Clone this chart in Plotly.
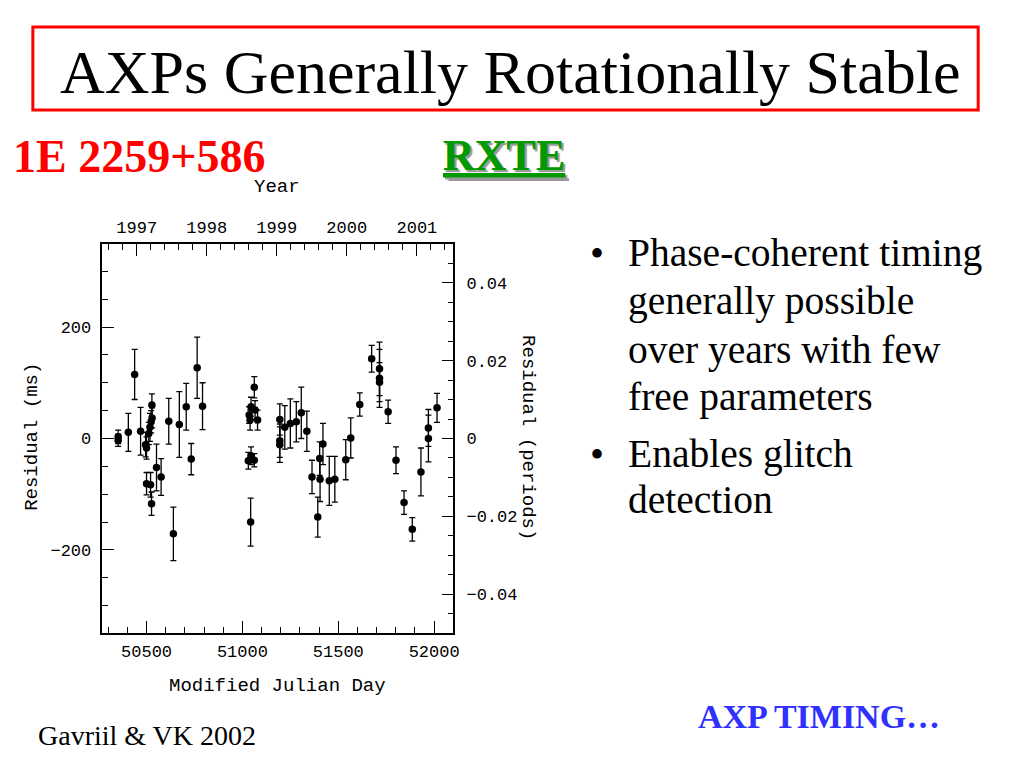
import datetime as dt
import plotly.graph_objects as go

# ---------------- data ----------------
mjd = [50352, 50352, 50405, 50438, 50469, 50495, 50500, 50512, 50518, 50524,
       50529, 50528, 50500, 50521, 50526, 50552, 50576, 50616, 50640, 50671,
       50707, 50733, 50764, 50792,
       51062, 51045, 51066, 51035, 51079, 51040, 51045, 51031, 51062, 51043,
       51195, 51195, 51195, 51221, 51250, 51281, 51307, 51336, 51363, 51393,
       51403, 51405, 51420, 51453, 51482, 51539, 51565, 51612, 51674, 51715,
       51715, 51715, 51760, 51801, 51843, 51886, 51931, 51970, 51970, 52015]
resid_ms = [3, -3, 11, 115, 13, -11, -17, 9, 20, 30,
            37, 60, -81, -83, -117, -52, -69, 31, -171, 25,
            57, -37, 127, 58,
            92, 57, 51, 42, 33, 33, -31, -40, -39, -150,
            34, -4, -11, 20, 27, 30, 46, 13, -69, -141,
            -36, -73, -10, -76, -73, -38, 1, 61, 143, 125,
            108, 101, 48, -39, -115, -163, -60, 19, 0, 55]
err_ms = [12, 11, 34, 45, 43, 22, 20, 20, 25, 20,
          18, 20, 20, 22, 21, 42, 33, 41, 48, 59,
          42, 28, 55, 42,
          19, 17, 17, 15, 18, 18, 16, 15, 12, 43,
          28, 30, 32, 39, 44, 36, 46, 36, 30, 36,
          30, 40, 37, 44, 41, 36, 36, 21, 24, 48,
          52, 35, 21, 24, 21, 21, 43, 33, 42, 26]

period_ms = 6979.0          # spin period of 1E 2259+586 (ms)
years = [1997, 1998, 1999, 2000, 2001]
bottom_ticks = [50500, 51000, 51500, 52000]
bottom_ticktext = ["50500", "51000", "51500", "52000"]
left_ticks = [-200, 0, 200]
left_ticktext = ["\u2212200", "0", "200"]
right_ticks = [-0.04, -0.02, 0.0, 0.02, 0.04]
right_ticktext = ["\u22120.04", "\u22120.02", "0", "0.02", "0.04"]
x_range = [50270, 52100]
period_range = [-0.05, 0.05]

bullet1 = ["Phase-coherent timing", "generally possible",
           "over years with few", "free parameters"]
bullet2 = ["Enables glitch", "detection"]

# ---------------- helpers ----------------
MJD0 = dt.date(1858, 11, 17)


def year_to_mjd(y):
    yi = int(y)
    start = (dt.date(yi, 1, 1) - MJD0).days
    length = (dt.date(yi + 1, 1, 1) - dt.date(yi, 1, 1)).days
    return start + (y - yi) * length


year_mjd = [year_to_mjd(y) for y in years]
year_minor = [year_to_mjd(1996 + k * 0.2) for k in range(0, 6 * 5 + 1)]

W, H, OFF = 1008, 752, 8


def fx(px):
    return (px - OFF) / W


def fy(py):
    return 1 - (py - OFF) / H


MONO = "Liberation Mono"
SERIF = "Liberation Serif"
BLACK = "black"

fig = go.Figure()
fig.add_trace(go.Scatter(
    x=mjd, y=resid_ms, mode="markers",
    marker=dict(color=BLACK, size=7.5),
    error_y=dict(type="data", array=err_ms, color=BLACK, thickness=1.3, width=3),
    showlegend=False, hoverinfo="skip"))
fig.add_trace(go.Scatter(
    x=mjd, y=[r / period_ms for r in resid_ms], xaxis="x2", yaxis="y2",
    mode="markers", marker=dict(opacity=0), showlegend=False, hoverinfo="skip"))

tickfont = dict(family=MONO, size=17, color=BLACK)
common = dict(showgrid=False, zeroline=False, showline=True, linecolor=BLACK,
              linewidth=1.5, ticks="inside", ticklen=12, tickwidth=1.2,
              tickcolor=BLACK, tickfont=tickfont)


def minor(vals):
    return dict(tickmode="array", tickvals=vals, ticks="inside", ticklen=6,
                tickwidth=1.2, tickcolor=BLACK, showgrid=False)


fig.update_layout(
    width=W, height=H, margin=dict(l=0, r=0, t=0, b=0),
    paper_bgcolor="white", plot_bgcolor="white",
    xaxis=dict(domain=[fx(103), fx(456)], range=x_range, tickmode="array",
               tickvals=bottom_ticks, ticktext=bottom_ticktext,
               minor=minor(list(range(50300, 52100, 100))),
               ticklabelstandoff=2, **common),
    xaxis2=dict(overlaying="x", side="top", anchor="y", range=x_range,
                tickmode="array", tickvals=year_mjd, ticktext=[str(y) for y in years],
                minor=minor(year_minor), ticklabelstandoff=2, **common),
    yaxis=dict(domain=[fy(633), fy(244)],
               range=[period_range[0] * period_ms, period_range[1] * period_ms],
               tickmode="array", tickvals=left_ticks, ticktext=left_ticktext,
               minor=minor(list(range(-300, 301, 50))), ticklabelstandoff=6, **common),
    yaxis2=dict(overlaying="y", side="right", anchor="x", range=period_range,
                tickmode="array", tickvals=right_ticks, ticktext=right_ticktext,
                minor=minor([k * 0.005 for k in range(-9, 10)]),
                ticklabelstandoff=8, **common),
)

ann = []


def add(text, x, y, size, family=SERIF, color=BLACK, xanchor="center",
        angle=0, yanchor="middle", **fontextra):
    ann.append(dict(text=text, x=fx(x), y=fy(y), xref="paper", yref="paper",
                    showarrow=False, xanchor=xanchor, yanchor=yanchor,
                    textangle=angle,
                    font=dict(family=family, size=size, color=color, **fontextra)))


add("AXPs Generally Rotationally Stable", 514, 72, 62)
add("<b>1E 2259+586</b>", 11, 157, 46, color="#ff0000", xanchor="left")
add("<b>RXTE</b>", 507, 156, 44, color="#009a00", lineposition="under",
    shadow="2px 2px 1px #9a9a9a")
add("Year", 279, 187, 19, family=MONO)
add("Modified Julian Day", 279, 686, 19, family=MONO)
add("Residual (ms)", 32, 437, 19, family=MONO, angle=-90)
add("Residual (periods)", 531, 438, 19, family=MONO, angle=90)

line_y = [253, 301, 350, 397]
for txt, yy in zip(bullet1, line_y):
    add(txt, 630, yy, 39.5, xanchor="left")
add("\u2022", 591, 253, 40, xanchor="left")
for txt, yy in zip(bullet2, [454, 500]):
    add(txt, 630, yy, 39.5, xanchor="left")
add("\u2022", 591, 454, 40, xanchor="left")

add("Gavriil &amp; VK 2002", 36, 735, 28, xanchor="left")
add("<b>AXP TIMING\u2026</b>", 700, 716, 34, color="#3030ff", xanchor="left")

fig.update_layout(annotations=ann, shapes=[dict(
    type="rect", xref="paper", yref="paper", x0=fx(33), x1=fx(984),
    y0=fy(110), y1=fy(27), line=dict(color="#ff0000", width=3))])

fig.write_html("out.html")
